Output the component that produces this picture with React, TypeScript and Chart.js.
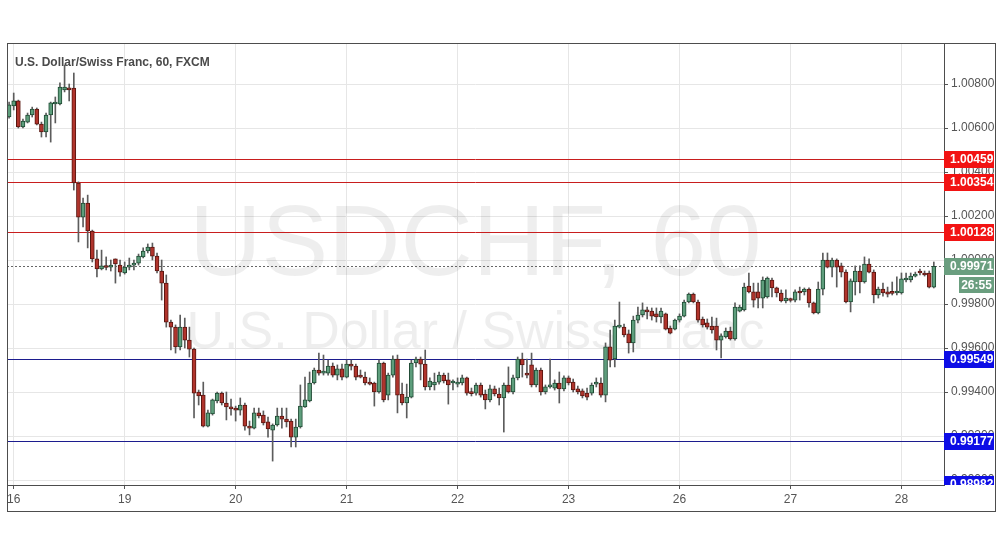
import { useEffect, useRef } from 'react';
import { Chart, registerables } from 'chart.js';

Chart.register(...registerables);

// Hourly candles (USD/CHF, FXCM, 60 min). Index of first candle on the hour axis:
const firstIndex = -1;

const opens = [
  1.00650, 1.00700, 1.00723, 1.00605, 1.00627, 1.00659, 1.00686, 1.00618, 1.00582, 1.00659,
  1.00709, 1.00709, 1.00773, 1.00782, 1.00782, 1.00350, 1.00195, 1.00259, 1.00132, 1.00005,
  0.99959, 0.99970, 0.99968, 1.00005, 0.99977, 0.99941, 0.99968, 0.99977, 0.99986, 1.00014,
  1.00041, 1.00059, 1.00018, 0.99950, 0.99895, 0.99718, 0.99695, 0.99605, 0.99695, 0.99636,
  0.99595, 0.99400, 0.99386, 0.99245, 0.99300, 0.99359, 0.99395, 0.99350, 0.99332, 0.99323,
  0.99318, 0.99341, 0.99245, 0.99236, 0.99305, 0.99295, 0.99264, 0.99227, 0.99250, 0.99291,
  0.99277, 0.99268, 0.99195, 0.99241, 0.99332, 0.99359, 0.99441, 0.99500, 0.99486, 0.99486,
  0.99518, 0.99477, 0.99505, 0.99468, 0.99527, 0.99518, 0.99473, 0.99468, 0.99441, 0.99441,
  0.99400, 0.99532, 0.99386, 0.99477, 0.99550, 0.99391, 0.99350, 0.99377, 0.99532, 0.99550,
  0.99527, 0.99423, 0.99432, 0.99445, 0.99477, 0.99455, 0.99441, 0.99436, 0.99441, 0.99464,
  0.99395, 0.99395, 0.99432, 0.99391, 0.99364, 0.99414, 0.99391, 0.99373, 0.99432, 0.99400,
  0.99464, 0.99550, 0.99486, 0.99523, 0.99432, 0.99500, 0.99400, 0.99423, 0.99418, 0.99441,
  0.99414, 0.99464, 0.99445, 0.99414, 0.99405, 0.99395, 0.99395, 0.99436, 0.99441, 0.99386,
  0.99605, 0.99550, 0.99695, 0.99695, 0.99664, 0.99623, 0.99727, 0.99750, 0.99773, 0.99768,
  0.99755, 0.99741, 0.99755, 0.99691, 0.99686, 0.99727, 0.99745, 0.99809, 0.99845, 0.99809,
  0.99732, 0.99714, 0.99700, 0.99700, 0.99636, 0.99650, 0.99677, 0.99641, 0.99768, 0.99773,
  0.99882, 0.99855, 0.99855, 0.99827, 0.99832, 0.99909, 0.99873, 0.99850, 0.99814, 0.99818,
  0.99818, 0.99855, 0.99855, 0.99868, 0.99805, 0.99759, 0.99868, 1.00000, 0.99968, 1.00000,
  0.99973, 0.99945, 0.99809, 0.99900, 0.99950, 0.99900, 0.99982, 0.99945, 0.99841, 0.99868,
  0.99855, 0.99850, 0.99850, 0.99850, 0.99909, 0.99909, 0.99927, 0.99945, 0.99941, 0.99941,
  0.99877,
];

const highs = [
  1.00718, 1.00759, 1.00727, 1.00641, 1.00668, 1.00695, 1.00691, 1.00627, 1.00668, 1.00718,
  1.00741, 1.00805, 1.00886, 1.00800, 1.00850, 1.00355, 1.00282, 1.00295, 1.00136, 1.00045,
  1.00045, 1.00014, 1.00000, 1.00005, 1.00000, 0.99991, 1.00009, 1.00000, 1.00027, 1.00055,
  1.00073, 1.00077, 1.00032, 1.00000, 0.99932, 0.99727, 0.99705, 0.99750, 0.99736, 0.99695,
  0.99600, 0.99409, 0.99445, 0.99318, 0.99368, 0.99400, 0.99400, 0.99400, 0.99368, 0.99336,
  0.99373, 0.99350, 0.99268, 0.99327, 0.99327, 0.99314, 0.99286, 0.99255, 0.99327, 0.99327,
  0.99327, 0.99277, 0.99277, 0.99432, 0.99468, 0.99491, 0.99509, 0.99577, 0.99568, 0.99545,
  0.99532, 0.99523, 0.99527, 0.99545, 0.99545, 0.99527, 0.99500, 0.99491, 0.99464, 0.99445,
  0.99545, 0.99536, 0.99486, 0.99564, 0.99568, 0.99441, 0.99436, 0.99545, 0.99559, 0.99559,
  0.99591, 0.99464, 0.99486, 0.99491, 0.99486, 0.99486, 0.99455, 0.99464, 0.99477, 0.99468,
  0.99418, 0.99441, 0.99441, 0.99409, 0.99432, 0.99427, 0.99418, 0.99441, 0.99514, 0.99477,
  0.99559, 0.99577, 0.99550, 0.99577, 0.99509, 0.99509, 0.99432, 0.99550, 0.99455, 0.99491,
  0.99473, 0.99473, 0.99459, 0.99427, 0.99414, 0.99418, 0.99441, 0.99464, 0.99464, 0.99623,
  0.99682, 0.99727, 0.99809, 0.99709, 0.99682, 0.99745, 0.99786, 0.99805, 0.99786, 0.99782,
  0.99782, 0.99782, 0.99759, 0.99700, 0.99732, 0.99755, 0.99818, 0.99850, 0.99850, 0.99818,
  0.99741, 0.99732, 0.99741, 0.99736, 0.99664, 0.99691, 0.99695, 0.99805, 0.99795, 0.99895,
  0.99941, 0.99895, 0.99895, 0.99923, 0.99923, 0.99918, 0.99877, 0.99864, 0.99864, 0.99827,
  0.99864, 0.99877, 0.99873, 0.99873, 0.99809, 0.99900, 1.00032, 1.00032, 1.00009, 1.00005,
  0.99986, 0.99955, 0.99914, 0.99973, 0.99973, 1.00014, 1.00005, 0.99955, 0.99877, 0.99895,
  0.99877, 0.99900, 0.99923, 0.99941, 0.99941, 0.99941, 0.99945, 0.99959, 0.99950, 0.99950,
  0.99991,
];

const lows = [
  1.00645, 1.00682, 1.00600, 1.00600, 1.00623, 1.00650, 1.00614, 1.00559, 1.00559, 1.00536,
  1.00623, 1.00705, 1.00764, 1.00723, 1.00318, 1.00082, 1.00150, 1.00055, 0.99991, 0.99923,
  0.99955, 0.99955, 0.99950, 0.99895, 0.99927, 0.99936, 0.99955, 0.99955, 0.99977, 1.00009,
  1.00032, 1.00000, 0.99941, 0.99818, 0.99695, 0.99591, 0.99577, 0.99591, 0.99600, 0.99559,
  0.99282, 0.99341, 0.99241, 0.99241, 0.99295, 0.99350, 0.99341, 0.99273, 0.99295, 0.99268,
  0.99295, 0.99227, 0.99205, 0.99232, 0.99282, 0.99250, 0.99195, 0.99086, 0.99245, 0.99236,
  0.99241, 0.99150, 0.99150, 0.99236, 0.99330, 0.99355, 0.99436, 0.99477, 0.99477, 0.99477,
  0.99468, 0.99455, 0.99455, 0.99464, 0.99500, 0.99455, 0.99464, 0.99432, 0.99432, 0.99336,
  0.99395, 0.99355, 0.99364, 0.99468, 0.99305, 0.99341, 0.99282, 0.99373, 0.99514, 0.99455,
  0.99409, 0.99409, 0.99409, 0.99436, 0.99441, 0.99345, 0.99409, 0.99423, 0.99432, 0.99386,
  0.99382, 0.99386, 0.99377, 0.99323, 0.99355, 0.99382, 0.99341, 0.99218, 0.99395, 0.99391,
  0.99455, 0.99468, 0.99464, 0.99423, 0.99423, 0.99386, 0.99391, 0.99418, 0.99409, 0.99350,
  0.99405, 0.99432, 0.99400, 0.99391, 0.99373, 0.99364, 0.99386, 0.99423, 0.99377, 0.99355,
  0.99514, 0.99514, 0.99691, 0.99650, 0.99577, 0.99582, 0.99714, 0.99741, 0.99732, 0.99727,
  0.99718, 0.99714, 0.99682, 0.99664, 0.99682, 0.99718, 0.99741, 0.99805, 0.99805, 0.99718,
  0.99695, 0.99686, 0.99668, 0.99591, 0.99555, 0.99645, 0.99636, 0.99636, 0.99764, 0.99768,
  0.99850, 0.99786, 0.99782, 0.99782, 0.99827, 0.99832, 0.99832, 0.99809, 0.99805, 0.99809,
  0.99809, 0.99818, 0.99841, 0.99786, 0.99755, 0.99755, 0.99841, 0.99964, 0.99923, 0.99877,
  0.99923, 0.99805, 0.99764, 0.99841, 0.99850, 0.99895, 0.99941, 0.99805, 0.99827, 0.99836,
  0.99832, 0.99841, 0.99841, 0.99845, 0.99900, 0.99900, 0.99923, 0.99932, 0.99927, 0.99873,
  0.99873,
];

const closes = [
  1.00705, 1.00723, 1.00605, 1.00632, 1.00659, 1.00686, 1.00618, 1.00582, 1.00659, 1.00714,
  1.00714, 1.00786, 1.00786, 1.00773, 1.00350, 1.00195, 1.00259, 1.00132, 1.00005, 0.99959,
  0.99973, 0.99966, 0.99973, 0.99982, 0.99945, 0.99968, 0.99977, 0.99986, 1.00018, 1.00041,
  1.00059, 1.00018, 0.99950, 0.99895, 0.99718, 0.99695, 0.99605, 0.99695, 0.99636, 0.99595,
  0.99395, 0.99382, 0.99245, 0.99305, 0.99364, 0.99395, 0.99350, 0.99332, 0.99323, 0.99318,
  0.99341, 0.99245, 0.99236, 0.99305, 0.99291, 0.99259, 0.99232, 0.99250, 0.99291, 0.99277,
  0.99264, 0.99195, 0.99241, 0.99336, 0.99364, 0.99441, 0.99500, 0.99486, 0.99488, 0.99518,
  0.99477, 0.99505, 0.99468, 0.99527, 0.99518, 0.99468, 0.99468, 0.99441, 0.99436, 0.99400,
  0.99532, 0.99364, 0.99477, 0.99550, 0.99386, 0.99350, 0.99377, 0.99532, 0.99550, 0.99527,
  0.99423, 0.99450, 0.99445, 0.99477, 0.99450, 0.99432, 0.99443, 0.99445, 0.99464, 0.99395,
  0.99393, 0.99432, 0.99386, 0.99364, 0.99414, 0.99391, 0.99373, 0.99432, 0.99400, 0.99464,
  0.99550, 0.99523, 0.99477, 0.99432, 0.99500, 0.99400, 0.99423, 0.99425, 0.99441, 0.99414,
  0.99464, 0.99441, 0.99409, 0.99400, 0.99382, 0.99377, 0.99432, 0.99438, 0.99386, 0.99605,
  0.99545, 0.99700, 0.99700, 0.99659, 0.99623, 0.99727, 0.99750, 0.99773, 0.99764, 0.99745,
  0.99741, 0.99768, 0.99686, 0.99668, 0.99727, 0.99745, 0.99809, 0.99845, 0.99809, 0.99727,
  0.99705, 0.99695, 0.99682, 0.99636, 0.99655, 0.99677, 0.99641, 0.99786, 0.99786, 0.99877,
  0.99855, 0.99818, 0.99827, 0.99909, 0.99918, 0.99873, 0.99850, 0.99814, 0.99827, 0.99816,
  0.99855, 0.99850, 0.99868, 0.99805, 0.99759, 0.99868, 1.00000, 0.99968, 1.00000, 0.99968,
  0.99945, 0.99809, 0.99905, 0.99950, 0.99900, 0.99982, 0.99945, 0.99841, 0.99868, 0.99850,
  0.99845, 0.99848, 0.99855, 0.99914, 0.99914, 0.99927, 0.99936, 0.99941, 0.99932, 0.99877,
  0.99971,
];

// Day ticks on the hour axis
const dayTickIndex = [0, 24, 48, 72, 96, 120, 144, 168, 192];
const dayTickLabels = ['16', '19', '20', '21', '22', '23', '26', '27', '28'];

// Price axis ticks
const priceTicks = [0.990, 0.992, 0.994, 0.996, 0.998, 1.000, 1.002, 1.004, 1.006, 1.008];

// Horizontal levels
const resistanceLevels = [1.00459, 1.00354, 1.00128];
const supportLevels = [0.99549, 0.99177];
const extraSupportLabels = [0.98982];
const lastPrice = 0.99971;
const countdownText = '26:55';

const titleText = 'U.S. Dollar/Swiss Franc, 60, FXCM';
const watermarkSymbol = 'USDCHF, 60';
const watermarkName = 'U.S. Dollar / Swiss Franc';

const FONT = '"Liberation Sans", Arial, sans-serif';
const UP_FILL = '#5e9e7c';
const UP_EDGE = '#1f4b34';
const DOWN_FILL = '#b0342c';
const DOWN_EDGE = '#5a1610';
const WICK = '#5c5c5c';
const RES_LINE = '#c81e1e';
const RES_BOX = '#f21313';
const SUP_LINE = '#1c1c8e';
const SUP_BOX = '#0d0de6';
const LAST_BOX = '#6a9e7f';

const overlayPlugin = {
  id: 'overlay',
  beforeDatasetsDraw(chart: any) {
    const { ctx, chartArea: a } = chart;
    const y = chart.scales.y;
    ctx.save();
    ctx.beginPath();
    ctx.rect(a.left, a.top, a.right - a.left, a.bottom - a.top);
    ctx.clip();
    const cx = (a.left + a.right) / 2;
    ctx.fillStyle = 'rgba(0,0,0,0.068)';
    ctx.textAlign = 'center';
    ctx.textBaseline = 'alphabetic';
    ctx.font = `100px ${FONT}`;
    ctx.fillText(watermarkSymbol, cx, 275);
    ctx.font = `52px ${FONT}`;
    ctx.fillText(watermarkName, cx, 348);

    ctx.lineWidth = 1;
    const hline = (v: number, color: string, dash: number[]) => {
      const py = Math.round(y.getPixelForValue(v)) + 0.5;
      ctx.strokeStyle = color;
      ctx.setLineDash(dash);
      ctx.beginPath();
      ctx.moveTo(a.left, py);
      ctx.lineTo(a.right, py);
      ctx.stroke();
    };
    resistanceLevels.forEach((v) => hline(v, RES_LINE, []));
    supportLevels.forEach((v) => hline(v, SUP_LINE, []));
    hline(lastPrice, '#666666', [2, 2]);
    ctx.restore();
  },
  afterDraw(chart: any) {
    const { ctx, chartArea: a } = chart;
    const y = chart.scales.y;
    ctx.save();
    // title
    ctx.fillStyle = '#4a4a4a';
    ctx.font = `bold 12px ${FONT}`;
    ctx.textAlign = 'left';
    ctx.textBaseline = 'alphabetic';
    ctx.fillText(titleText, 15, 66);

    // hide axis area below plot bottom
    ctx.fillStyle = '#ffffff';
    ctx.fillRect(a.right + 1, a.bottom + 1, 60, 30);

    // price labels
    ctx.save();
    ctx.beginPath();
    ctx.rect(a.right, a.top, 52, a.bottom - a.top);
    ctx.clip();
    const box = (v: number, color: string, text: string) => {
      const py = y.getPixelForValue(v);
      ctx.fillStyle = color;
      ctx.fillRect(a.right, Math.round(py) - 8, 50, 17);
      ctx.fillStyle = '#ffffff';
      ctx.font = `bold 12px ${FONT}`;
      ctx.textAlign = 'left';
      ctx.textBaseline = 'middle';
      ctx.fillText(text, a.right + 6, Math.round(py) + 1);
    };
    resistanceLevels.forEach((v) => box(v, RES_BOX, v.toFixed(5)));
    supportLevels.forEach((v) => box(v, SUP_BOX, v.toFixed(5)));
    extraSupportLabels.forEach((v) => box(v, SUP_BOX, v.toFixed(5)));
    box(lastPrice, LAST_BOX, lastPrice.toFixed(5));
    const lp = Math.round(y.getPixelForValue(lastPrice));
    ctx.fillStyle = LAST_BOX;
    ctx.fillRect(a.right + 15, lp + 11, 35, 16);
    ctx.fillStyle = '#ffffff';
    ctx.font = `bold 12px ${FONT}`;
    ctx.textAlign = 'center';
    ctx.fillText(countdownText, a.right + 32.5, lp + 19.5);
    ctx.restore();

    // frame
    ctx.strokeStyle = '#4d4d4d';
    ctx.lineWidth = 1;
    ctx.strokeRect(7.5, 43.5, 988, 468);
    ctx.restore();
  },
};

export default function App() {
  const ref = useRef<HTMLCanvasElement>(null);
  useEffect(() => {
    const canvas = ref.current;
    if (!canvas) return;
    const up = opens.map((o, i) => closes[i] >= o);
    const bodies = opens.map((o, i) => ({ x: firstIndex + i, y: [o, closes[i]] }));
    const wicks = lows.map((l, i) => ({ x: firstIndex + i, y: [l, highs[i]] }));
    const chart = new Chart(canvas, {
      type: 'bar',
      data: {
        datasets: [
          {
            label: 'body',
            data: bodies as any,
            backgroundColor: up.map((u) => (u ? UP_FILL : DOWN_FILL)),
            borderColor: up.map((u) => (u ? UP_EDGE : DOWN_EDGE)),
            borderWidth: 1,
            borderSkipped: false,
            barThickness: 4,
            minBarLength: 2,
            grouped: false,
            order: 0,
          } as any,
          {
            label: 'wick',
            data: wicks as any,
            backgroundColor: WICK,
            borderWidth: 0,
            barThickness: 1,
            grouped: false,
            order: 1,
          } as any,
        ],
      },
      options: {
        animation: false,
        responsive: false,
        devicePixelRatio: 1,
        layout: { padding: { left: 7, top: 43, right: 7, bottom: 36 } },
        plugins: { legend: { display: false }, tooltip: { enabled: false }, title: { display: false } },
        scales: {
          x: {
            type: 'linear',
            min: -1.45,
            max: 201.2,
            offset: false,
            afterBuildTicks: (s: any) => {
              s.ticks = dayTickIndex.map((value) => ({ value }));
            },
            afterFit: (s: any) => {
              s.height = 26;
              s.paddingLeft = 0;
              s.paddingRight = 0;
            },
            ticks: {
              autoSkip: false,
              maxRotation: 0,
              padding: 3,
              color: '#555555',
              font: { family: FONT, size: 12 },
              callback: (v: any) => {
                const k = dayTickIndex.indexOf(Number(v));
                return k >= 0 ? dayTickLabels[k] : '';
              },
            },
            grid: { color: '#e6e6e6', tickColor: '#555555', tickLength: 4, offset: false },
            border: { color: '#4d4d4d' },
          } as any,
          y: {
            type: 'linear',
            position: 'right',
            min: 0.989773,
            max: 1.009864,
            afterBuildTicks: (s: any) => {
              s.ticks = priceTicks.map((value) => ({ value }));
            },
            afterFit: (s: any) => {
              s.width = 51;
              s.paddingTop = 0;
              s.paddingBottom = 0;
            },
            ticks: {
              autoSkip: false,
              padding: 3,
              color: '#555555',
              font: { family: FONT, size: 12 },
              callback: (v: any) => Number(v).toFixed(5),
            },
            grid: { color: '#e6e6e6', tickColor: '#555555', tickLength: 4 },
            border: { color: '#4d4d4d' },
          } as any,
        },
      },
      plugins: [overlayPlugin],
    });
    return () => chart.destroy();
  }, []);
  return (
    <div style={{ position: 'absolute', left: 0, top: 0, width: 1002, height: 547, background: '#ffffff' }}>
      <canvas ref={ref} width={1002} height={547} style={{ display: 'block', width: 1002, height: 547 }} />
    </div>
  );
}
